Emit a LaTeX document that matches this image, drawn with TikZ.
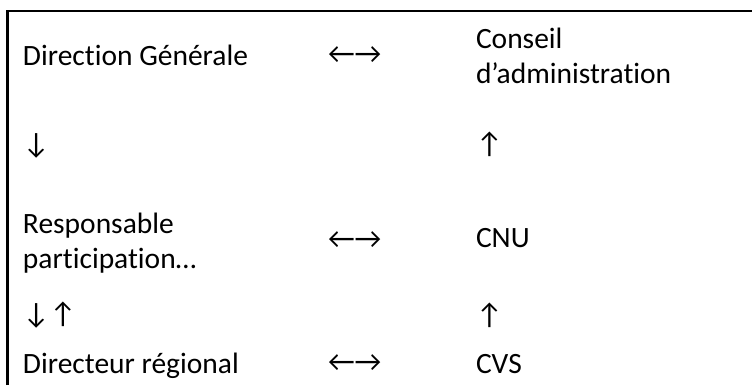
\documentclass[tikz,border=0pt]{standalone}
\usepackage{fontspec}
\setmainfont{Carlito}[Ligatures=NoCommon]

\begin{document}
\begin{tikzpicture}[x=0.373pt, y=-0.373pt]
   \tikzstyle{every node}=[inner sep=0pt, outer sep=0pt, anchor=base west, font=\fontsize{11}{13.05}\selectfont]
   \tikzstyle{two lines}=[align=left]

\useasboundingbox (0,0) rectangle (752,385);

% border of the table
\draw[line width=0.75pt] (7.5,385) -- (7.5,11) -- (752,11);

% left column
\node (dg) at (23,65) {Direction Générale};
\node (down1) at (23,153) {↓};
\node[two lines] (resp) at (23,268) {Responsable\\participation…};
\node (downup) at (23,323) {↓↑};
\node (dr) at (23,373) {Directeur régional};

% middle column
\node (lr1) at (328,63) {←→};
\node (lr2) at (328,248) {←→};
\node (lr3) at (328,371) {←→};

% right column
\node[two lines] (ca) at (476,83) {Conseil\\d’administration};
\node (up1) at (476,153) {↑};
\node (cnu) at (476,247) {CNU};
\node (up2) at (476,324) {↑};
\node (cvs) at (476,373) {CVS};

\end{tikzpicture}
\end{document}
